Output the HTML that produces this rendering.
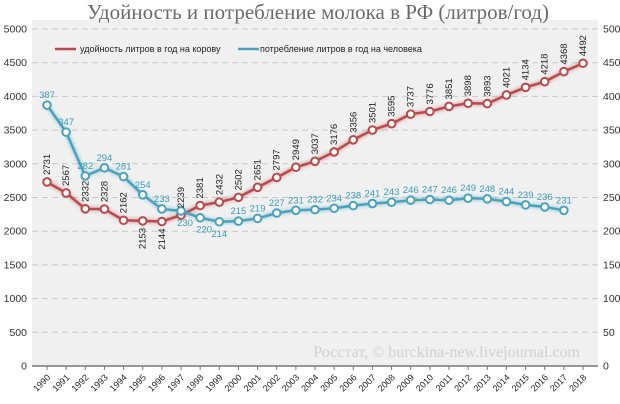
<!DOCTYPE html>
<html><head><meta charset="utf-8"><style>
html,body{margin:0;padding:0;background:#fff;}
svg{display:block;font-family:"Liberation Sans",sans-serif;}
</style></head><body>
<svg id="c" width="620" height="404" viewBox="0 0 620 404">
<defs><filter id="glow" x="-20%" y="-20%" width="140%" height="140%"><feGaussianBlur stdDeviation="1.5"/></filter></defs>
<rect x="32" y="20" width="566" height="346" fill="#f0f0f0"/>
<text x="318" y="19" text-anchor="middle" font-family="Liberation Serif, serif" font-size="21" fill="#6a6a6a">Удойность и потребление молока в РФ (литров/год)</text>
<g id="grid"></g><g id="axes"></g>
<text x="580" y="357" text-anchor="end" font-family="Liberation Serif, serif" font-size="16" fill="#d0d0d0">Росстат, © burckina-new.livejournal.com</text>
<g>
<line x1="55" y1="49" x2="76" y2="49" stroke="#b94a4c" stroke-width="2.5"/>
<text x="80" y="52" font-size="9" fill="#222">удойность литров в год на корову</text>
<line x1="238" y1="49" x2="259" y2="49" stroke="#4aa2bc" stroke-width="2.5"/>
<text x="260" y="52" font-size="9" fill="#222">потребление литров в год на человека</text>
</g>
<g id="series"></g>
</svg>
<script>
const years=[1990,1991,1992,1993,1994,1995,1996,1997,1998,1999,2000,2001,2002,2003,2004,2005,2006,2007,2008,2009,2010,2011,2012,2013,2014,2015,2016,2017,2018];
const yieldVals=[2731,2567,2332,2328,2162,2153,2144,2239,2381,2432,2502,2651,2797,2949,3037,3176,3356,3501,3595,3737,3776,3851,3898,3893,4021,4134,4218,4368,4492];
const consVals=[387,347,282,294,281,254,233,230,220,214,215,219,227,231,232,234,238,241,243,246,247,246,249,248,244,239,236,231];
const leftTicks=[0,500,1000,1500,2000,2500,3000,3500,4000,4500,5000];
const rightTicks=[0,50,100,150,200,250,300,350,400,450,500];
const NS="http://www.w3.org/2000/svg";
const X=i=>47+i*(536/28);
const YL=v=>366-v*(337/5000);
const YR=v=>366-v*(337/500);
function mk(tag,attrs,parent,txt){const e=document.createElementNS(NS,tag);for(const k in attrs)e.setAttribute(k,attrs[k]);if(txt!=null)e.textContent=txt;parent.appendChild(e);return e;}
const grid=document.getElementById('grid'),axes=document.getElementById('axes'),ser=document.getElementById('series');
leftTicks.forEach((t,i)=>{const y=YL(t);
 if(t>0){const l=mk('line',{x1:32,x2:598,y1:y,y2:y,stroke:'#c8c8c8','stroke-dasharray':'6,4','stroke-width':1},grid);
 
 }
 const a=mk('text',{x:27,y:y+3.5,'text-anchor':'end','font-size':10.5,fill:'#333'},axes,t);
 
 
 const b=mk('text',{x:603,y:y+3.5,'font-size':10.5,fill:'#333'},axes,rightTicks[i]);
 
 
});
const ax=mk('line',{x1:32,x2:598,y1:366,y2:366,stroke:'#777','stroke-width':1.5},axes);


years.forEach((yr,i)=>{const x=X(i);
 mk('line',{x1:x,x2:x,y1:366,y2:370,stroke:'#777'},axes);
 const t=mk('text',{x:x+4,y:378,'text-anchor':'end','font-size':9,fill:'#222',transform:`rotate(-45 ${x+4} 378)`},axes,yr);
 
 
});
function series(vals,Y,color,name){
 const pts=vals.map((v,i)=>X(i)+','+Y(v)).join(' ');
 mk('polyline',{points:pts,fill:'none',stroke:color,'stroke-width':5,opacity:0.35,filter:'url(#glow)'},ser);
 const pl=mk('polyline',{points:pts,fill:'none',stroke:color,'stroke-width':2.5},ser);
 
 
 vals.forEach((v,i)=>{const c=mk('circle',{cx:X(i),cy:Y(v),r:3.8,fill:'#fff',stroke:color,'stroke-width':2},ser);
  
  });
}
series(yieldVals,YL,'#b94a4c','yield');
series(consVals,YR,'#4aa2bc','consumption');
yieldVals.forEach((v,i)=>{const x=X(i)+3,below=(i==5||i==6);const y=below?YL(v)+7:YL(v)-7;
 const t=mk('text',{x:x,y:y,'text-anchor':below?'end':'start','font-size':9.5,fill:'#222',transform:`rotate(-90 ${x} ${y})`},ser,v);
 
 });
consVals.forEach((v,i)=>{const below=(i>=7&&i<=9);const y=below?YR(v)+15:YR(v)-7;
 const t=mk('text',{x:X(i)+(below&&i<9?4:0),y:y,'text-anchor':'middle','font-size':9.5,fill:'#3a9cb8'},ser,v);
 
 });
</script>
</body></html>
